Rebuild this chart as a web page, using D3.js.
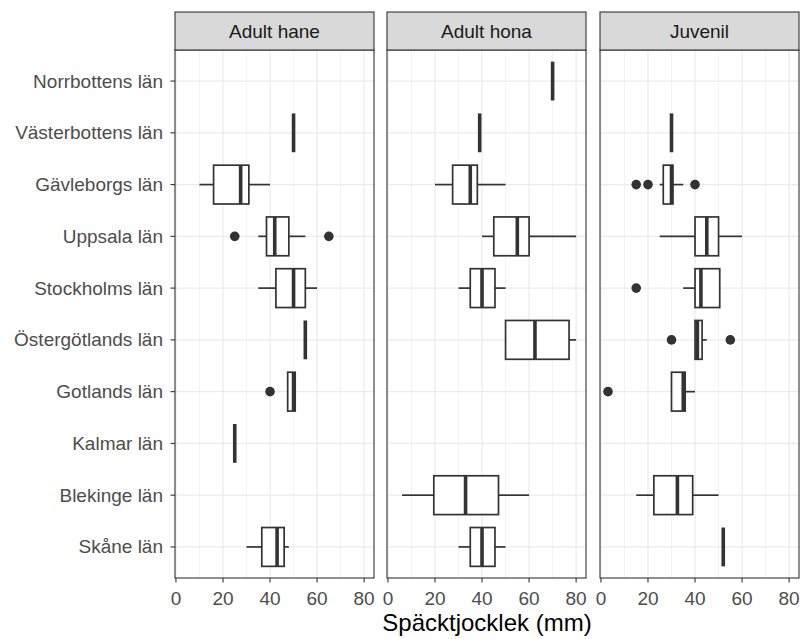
<!DOCTYPE html>
<html>
<head>
<meta charset="utf-8">
<script src="https://cdn.jsdelivr.net/npm/d3@7"></script>
<style>
  body { margin: 0; background: #fff; }
  text { font-family: "Liberation Sans", Arial, sans-serif; }
</style>
</head>
<body>
<script>
const counties = ["Norrbottens län", "Västerbottens län", "Gävleborgs län", "Uppsala län", "Stockholms län",
    "Östergötlands län", "Gotlands län", "Kalmar län", "Blekinge län", "Skåne län"];
const groups = ["Adult hane", "Adult hona", "Juvenil"];
const xTicks = [0, 20, 40, 60, 80];
const xMinor = [10, 30, 50, 70];

// [lower whisker, q1, median, q3, upper whisker] per county, null = no data
const haneStats = [null, [50, 50, 50, 50, 50], [10, 16, 27.5, 31, 40], [35, 38.5, 42, 48, 55], [35, 42.5, 50, 55, 60],
    [55, 55, 55, 55, 55], [47.5, 47.5, 50, 50.7, 50.7], [25, 25, 25, 25, 25], null, [30, 36.5, 43, 46, 48]];
const honaStats = [[70, 70, 70, 70, 70], [39, 39, 39, 39, 39], [20, 27.5, 35, 38, 50], [40, 45, 55, 60, 80], [30, 35, 40, 45.5, 50],
    [50, 50, 62.5, 77, 80], null, null, [6, 19.5, 33, 47, 60], [30, 35, 40, 45.5, 50]];
const juvenilStats = [null, [30, 30, 30, 30, 30], [25, 26.5, 30, 30.6, 35], [25, 40, 45, 50, 60], [35, 40, 42.5, 50.5, 50.5],
    [40, 40, 41, 43, 45], [30, 30, 35, 35.8, 40], null, [15, 22.5, 32.5, 39, 50], [52, 52, 52, 52, 52]];

// outliers: [county index, value]
const haneOut = [[3, 25], [3, 65], [6, 40]];
const honaOut = [];
const juvenilOut = [[2, 15], [2, 20], [2, 40], [4, 15], [5, 30], [5, 55], [6, 3]];

const stats = [haneStats, honaStats, juvenilStats];
const outliers = [haneOut, honaOut, juvenilOut];

const width = 801;
const height = 639;
const panelLeft = [175, 387, 600];
const panelW = 199;
const panelTop = 50, panelBottom = 578;

const svg = d3.select("body")
    .append("svg")
    .attr("width", width)
    .attr("height", height);

const x = d3.scaleLinear().domain([-0.4, 84.2]).range([0, panelW]);
const y = d3.scalePoint().domain(counties).range([panelTop, panelBottom]).padding(0.6);
const boxH = y.step() * 0.75;

groups.forEach((grp, gi) => {
    const g = svg.append("g").attr("transform", `translate(${panelLeft[gi]},0)`);

    // grid
    g.selectAll(".minor").data(xMinor).join("line")
        .attr("x1", d => x(d)).attr("x2", d => x(d))
        .attr("y1", panelTop).attr("y2", panelBottom)
        .attr("stroke", "#EBEBEB").attr("stroke-width", 0.6);
    g.selectAll(".major").data(xTicks).join("line")
        .attr("x1", d => x(d)).attr("x2", d => x(d))
        .attr("y1", panelTop).attr("y2", panelBottom)
        .attr("stroke", "#EBEBEB").attr("stroke-width", 1.2);
    g.selectAll(".hgrid").data(counties).join("line")
        .attr("x1", 0).attr("x2", panelW)
        .attr("y1", d => y(d)).attr("y2", d => y(d))
        .attr("stroke", "#EBEBEB").attr("stroke-width", 1.2);

    // boxes
    const rows = stats[gi].map((s, i) => ({county: counties[i], s})).filter(d => d.s);
    const b = g.selectAll(".box").data(rows).join("g");
    const yc = d => y(d.county);
    b.append("line")
        .attr("x1", d => x(d.s[0])).attr("x2", d => x(d.s[1]))
        .attr("y1", yc).attr("y2", yc)
        .attr("stroke", "#333").attr("stroke-width", 1.7);
    b.append("line")
        .attr("x1", d => x(d.s[3])).attr("x2", d => x(d.s[4]))
        .attr("y1", yc).attr("y2", yc)
        .attr("stroke", "#333").attr("stroke-width", 1.7);
    b.append("rect")
        .attr("x", d => x(d.s[1]))
        .attr("width", d => x(d.s[3]) - x(d.s[1]))
        .attr("y", d => yc(d) - boxH / 2)
        .attr("height", boxH)
        .attr("fill", "#fff").attr("stroke", "#333").attr("stroke-width", 1.7);
    b.append("line")
        .attr("x1", d => x(d.s[2])).attr("x2", d => x(d.s[2]))
        .attr("y1", d => yc(d) - boxH / 2).attr("y2", d => yc(d) + boxH / 2)
        .attr("stroke", "#333").attr("stroke-width", 3.6);

    g.selectAll(".out").data(outliers[gi]).join("circle")
        .attr("cx", d => x(d[1]))
        .attr("cy", d => y(counties[d[0]]))
        .attr("r", 4.8)
        .attr("fill", "#333");

    // border
    g.append("rect")
        .attr("x", 0).attr("y", panelTop).attr("width", panelW).attr("height", panelBottom - panelTop)
        .attr("fill", "none").attr("stroke", "#333").attr("stroke-width", 1.1);

    // strip
    g.append("rect")
        .attr("x", 0).attr("y", 12).attr("width", panelW).attr("height", panelTop - 12)
        .attr("fill", "#D9D9D9").attr("stroke", "#333").attr("stroke-width", 1.1);
    g.append("text")
        .attr("x", panelW / 2).attr("y", 31)
        .attr("text-anchor", "middle").attr("dominant-baseline", "central")
        .attr("font-size", 19).attr("fill", "#1A1A1A")
        .text(grp);

    // x axis
    const xa = g.append("g").attr("transform", `translate(0,${panelBottom})`);
    xa.selectAll("line").data(xTicks).join("line")
        .attr("x1", d => x(d)).attr("x2", d => x(d))
        .attr("y1", 0).attr("y2", 4.5)
        .attr("stroke", "#333").attr("stroke-width", 1.1);
    xa.selectAll("text").data(xTicks).join("text")
        .attr("x", d => x(d)).attr("y", 20)
        .attr("text-anchor", "middle").attr("dominant-baseline", "central")
        .attr("font-size", 19).attr("fill", "#4D4D4D")
        .text(d => d);
});

// y axis
const ya = svg.append("g").attr("transform", `translate(${panelLeft[0]},0)`);
ya.selectAll("line").data(counties).join("line")
    .attr("x1", -4.5).attr("x2", 0)
    .attr("y1", d => y(d)).attr("y2", d => y(d))
    .attr("stroke", "#333").attr("stroke-width", 1.1);
ya.selectAll("text").data(counties).join("text")
    .attr("x", -12).attr("y", d => y(d))
    .attr("text-anchor", "end").attr("dominant-baseline", "central")
    .attr("font-size", 19).attr("fill", "#4D4D4D")
    .text(d => d);

svg.append("text")
    .attr("x", (panelLeft[0] + panelLeft[2] + panelW) / 2)
    .attr("y", 622)
    .attr("text-anchor", "middle").attr("dominant-baseline", "central")
    .attr("font-size", 24).attr("fill", "#000")
    .text("Späcktjocklek (mm)");
</script>
</body>
</html>
